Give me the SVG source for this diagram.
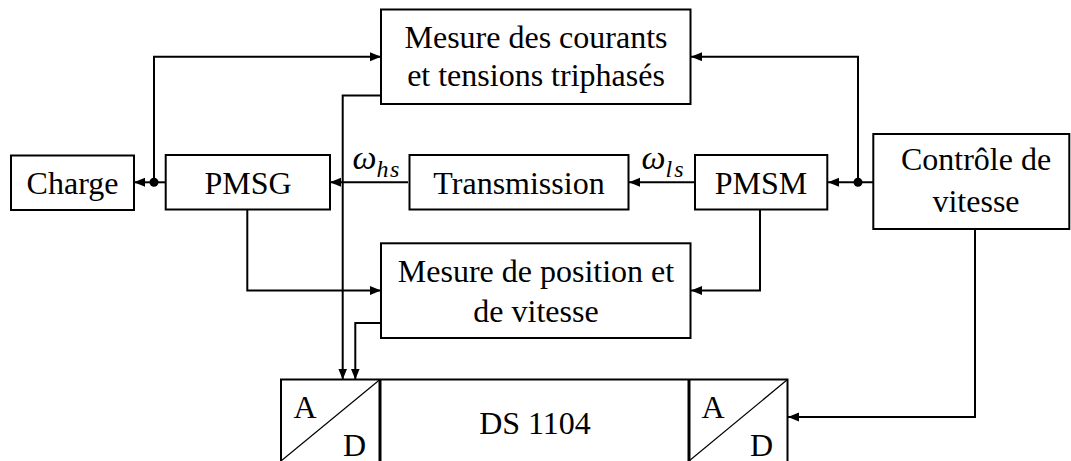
<svg xmlns="http://www.w3.org/2000/svg" width="1071" height="461" viewBox="0 0 1071 461">
<style>
.box{fill:#fff;stroke:#000;stroke-width:2}
.ln{fill:none;stroke:#000;stroke-width:2}
text{fill:#000}
.t{font-size:32px;text-anchor:middle}
.m{font-style:italic}
</style>
<defs>
<marker id="ah" markerUnits="userSpaceOnUse" markerWidth="12" markerHeight="10" refX="11" refY="4.5" orient="auto">
<path d="M0,0 L11,4.5 L0,9 z" fill="#000"/>
</marker>
</defs>
<rect width="1071" height="461" fill="#fff"/>
<g id="connectors">
<path class="ln" d="M166,182.3 H134" marker-end="url(#ah)"/>
<path class="ln" d="M154,182.3 V56.7 H381" marker-end="url(#ah)"/>
<path class="ln" d="M408,182.3 H330" marker-end="url(#ah)"/>
<path class="ln" d="M695,182.3 H629" marker-end="url(#ah)"/>
<path class="ln" d="M873,182.3 H828" marker-end="url(#ah)"/>
<path class="ln" d="M858,182.3 V56.7 H691" marker-end="url(#ah)"/>
<path class="ln" d="M381,95.5 H342.7 V379.5" marker-end="url(#ah)"/>
<path class="ln" d="M247.3,209.5 V290.5 H381" marker-end="url(#ah)"/>
<path class="ln" d="M760,209.5 V290.5 H691" marker-end="url(#ah)"/>
<path class="ln" d="M381,323 H355.3 V379.5" marker-end="url(#ah)"/>
<path class="ln" d="M975,229 V417 H788" marker-end="url(#ah)"/>
<circle cx="154" cy="182.3" r="4.5"/>
<circle cx="858" cy="182.3" r="4.5"/>
</g>
<g font-family="Liberation Serif, serif">
<g id="mesure-courants">
<rect class="box" x="381" y="9.5" width="309.5" height="94.5"/>
<text class="t" x="536" y="47.7">Mesure des courants</text>
<text class="t" x="536" y="86">et tensions triphasés</text>
</g>
<g id="charge">
<rect class="box" x="11" y="155.5" width="123" height="54.5"/>
<text class="t" x="72.5" y="193.5">Charge</text>
</g>
<g id="pmsg">
<rect class="box" x="165.7" y="155" width="164.3" height="54.5"/>
<text class="t" x="248" y="193.5">PMSG</text>
</g>
<g id="transmission">
<rect class="box" x="409.5" y="155" width="219" height="54.5"/>
<text class="t" x="519" y="193.5">Transmission</text>
</g>
<g id="pmsm">
<rect class="box" x="695" y="155" width="132.3" height="54.5"/>
<text class="t" x="761" y="193.5">PMSM</text>
</g>
<g id="controle">
<rect class="box" x="873.3" y="134" width="196" height="95"/>
<text class="t" x="976" y="170">Contrôle de</text>
<text class="t" x="976" y="211.5">vitesse</text>
</g>
<g id="mesure-position">
<rect class="box" x="381" y="243.3" width="309.5" height="94.7"/>
<text class="t" x="536" y="281.7">Mesure de position et</text>
<text class="t" x="536" y="321.5">de vitesse</text>
</g>
<g id="labels">
<text class="m" x="352.5" y="168.5" font-size="34">ω<tspan font-size="24" dy="8" letter-spacing="1.5">hs</tspan></text>
<text class="m" x="641.5" y="168.5" font-size="34">ω<tspan font-size="24" dy="8" letter-spacing="2">ls</tspan></text>
</g>
<g id="ds1104">
<rect class="box" x="281" y="379.5" width="506.5" height="90"/>
<line x1="380" y1="379.5" x2="380" y2="465" stroke="#000" stroke-width="3"/>
<line x1="689" y1="379.5" x2="689" y2="465" stroke="#000" stroke-width="3"/>
<line x1="281" y1="461" x2="380" y2="379.5" stroke="#000" stroke-width="1.2"/>
<line x1="689" y1="461" x2="787.5" y2="379.5" stroke="#000" stroke-width="1.2"/>
<text class="t" x="305" y="418">A</text>
<text class="t" x="354.5" y="456">D</text>
<text class="t" x="535" y="434">DS 1104</text>
<text class="t" x="713" y="418">A</text>
<text class="t" x="761.5" y="456">D</text>
</g>
</g>
</svg>
